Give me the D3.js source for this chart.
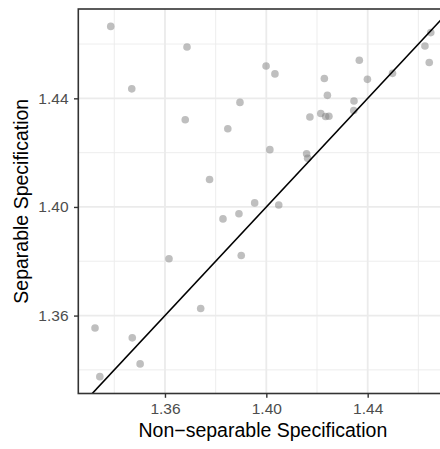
<!DOCTYPE html>
<html><head><meta charset="utf-8">
<script src="https://cdn.jsdelivr.net/npm/d3@7"></script>
<style>body{margin:0;background:#fff}svg{display:block}</style>
</head><body>
<script>
// Non-separable (x) vs Separable (y) specification estimates
const nonSeparable = [1.3386,1.3687,1.3469,1.3680,1.3776,1.3999,1.4034,1.3896,1.3848,1.4229,
  1.4367,1.4399,1.4498,1.4241,1.4346,1.4345,1.4172,1.4215,1.4234,1.4247,
  1.4014,1.4159,1.4163,1.4649,1.4626,1.4643,1.3954,1.4049,1.3892,1.3829,
  1.3616,1.3901,1.3741,1.3324,1.3471,1.3502,1.3343];
const separable = [1.4665,1.4589,1.4435,1.4321,1.4101,1.4519,1.4490,1.4385,1.4288,1.4473,
  1.4540,1.4470,1.4492,1.4411,1.4390,1.4355,1.4331,1.4344,1.4333,1.4334,
  1.4211,1.4196,1.4179,1.4642,1.4593,1.4532,1.4015,1.4007,1.3975,1.3956,
  1.3809,1.3821,1.3626,1.3554,1.3518,1.3422,1.3375];
const xTicks = [1.36, 1.40, 1.44];
const yTicks = [1.36, 1.40, 1.44];
const xMinor = [1.34, 1.38, 1.42, 1.46];
const yMinor = [1.34, 1.38, 1.42, 1.46];
const xDomain = [1.3258, 1.4715];
const yDomain = [1.3313, 1.4729];

const W = 440, H = 449;
const L = 78.3, R = 447.5, T = 9, B = 393.5;
const svg = d3.select("body").append("svg").attr("width", W).attr("height", H);
const x = d3.scaleLinear().domain(xDomain).range([L, R]);
const y = d3.scaleLinear().domain(yDomain).range([B, T]);
const fmt = d3.format(".2f");
const FONT = "'Liberation Sans', Arial, sans-serif";

svg.append("defs").append("clipPath").attr("id","clip")
  .append("rect").attr("x",L).attr("y",T).attr("width",R-L).attr("height",B-T);

const g = svg.append("g");
// grid minor
g.selectAll(".vmin").data(xMinor).join("line")
  .attr("x1", d=>x(d)).attr("x2", d=>x(d)).attr("y1", T).attr("y2", B)
  .attr("stroke","#ebebeb").attr("stroke-width",0.9);
g.selectAll(".hmin").data(yMinor).join("line")
  .attr("y1", d=>y(d)).attr("y2", d=>y(d)).attr("x1", L).attr("x2", R)
  .attr("stroke","#ebebeb").attr("stroke-width",0.9);
// grid major
g.selectAll(".vmaj").data(xTicks).join("line")
  .attr("x1", d=>x(d)).attr("x2", d=>x(d)).attr("y1", T).attr("y2", B)
  .attr("stroke","#ebebeb").attr("stroke-width",1.8);
g.selectAll(".hmaj").data(yTicks).join("line")
  .attr("y1", d=>y(d)).attr("y2", d=>y(d)).attr("x1", L).attr("x2", R)
  .attr("stroke","#ebebeb").attr("stroke-width",1.8);

// points
const pts = nonSeparable.map((v,i)=>({x:v, y:separable[i]}));
svg.append("g").attr("clip-path","url(#clip)")
  .selectAll("circle").data(pts).join("circle")
  .attr("cx", d=>x(d.x)).attr("cy", d=>y(d.y)).attr("r", 3.8)
  .attr("fill","#7f7f7f").attr("fill-opacity",0.5);

// y = x line
const lo = Math.min(xDomain[0], yDomain[0]), hi = Math.max(xDomain[1], yDomain[1]);
svg.append("g").attr("clip-path","url(#clip)").append("line")
  .attr("x1", x(lo)).attr("y1", y(lo)).attr("x2", x(hi)).attr("y2", y(hi))
  .attr("stroke","#000").attr("stroke-width",1.6);

// panel border
svg.append("rect").attr("x",L).attr("y",T).attr("width",R-L).attr("height",B-T)
  .attr("fill","none").attr("stroke","#333").attr("stroke-width",1.6);

// axes
const xAxis = d3.axisBottom(x).tickValues(xTicks).tickFormat(fmt).tickSize(4.3).tickPadding(5.5);
const yAxis = d3.axisLeft(y).tickValues(yTicks).tickFormat(fmt).tickSize(4.3).tickPadding(5.5);
const gx = svg.append("g").attr("transform",`translate(0,${B})`).call(xAxis);
const gy = svg.append("g").attr("transform",`translate(${L},0)`).call(yAxis);
[gx, gy].forEach(a=>{
  a.select(".domain").remove();
  a.selectAll(".tick line").attr("stroke","#333").attr("stroke-width",1.4);
  a.selectAll(".tick text").attr("fill","#4d4d4d")
    .style("font-family",FONT).style("font-size","15.5px");
});

// titles
svg.append("text").attr("x",(L+R)/2).attr("y",436.5).attr("text-anchor","middle")
  .style("font-family",FONT).style("font-size","19.5px")
  .attr("fill","#000").text("Non\u2212separable Specification");
svg.append("text").attr("transform",`translate(27.5,${(T+B)/2}) rotate(-90)`).attr("text-anchor","middle")
  .style("font-family",FONT).style("font-size","19.5px")
  .attr("fill","#000").text("Separable Specification");
</script>
</body></html>
